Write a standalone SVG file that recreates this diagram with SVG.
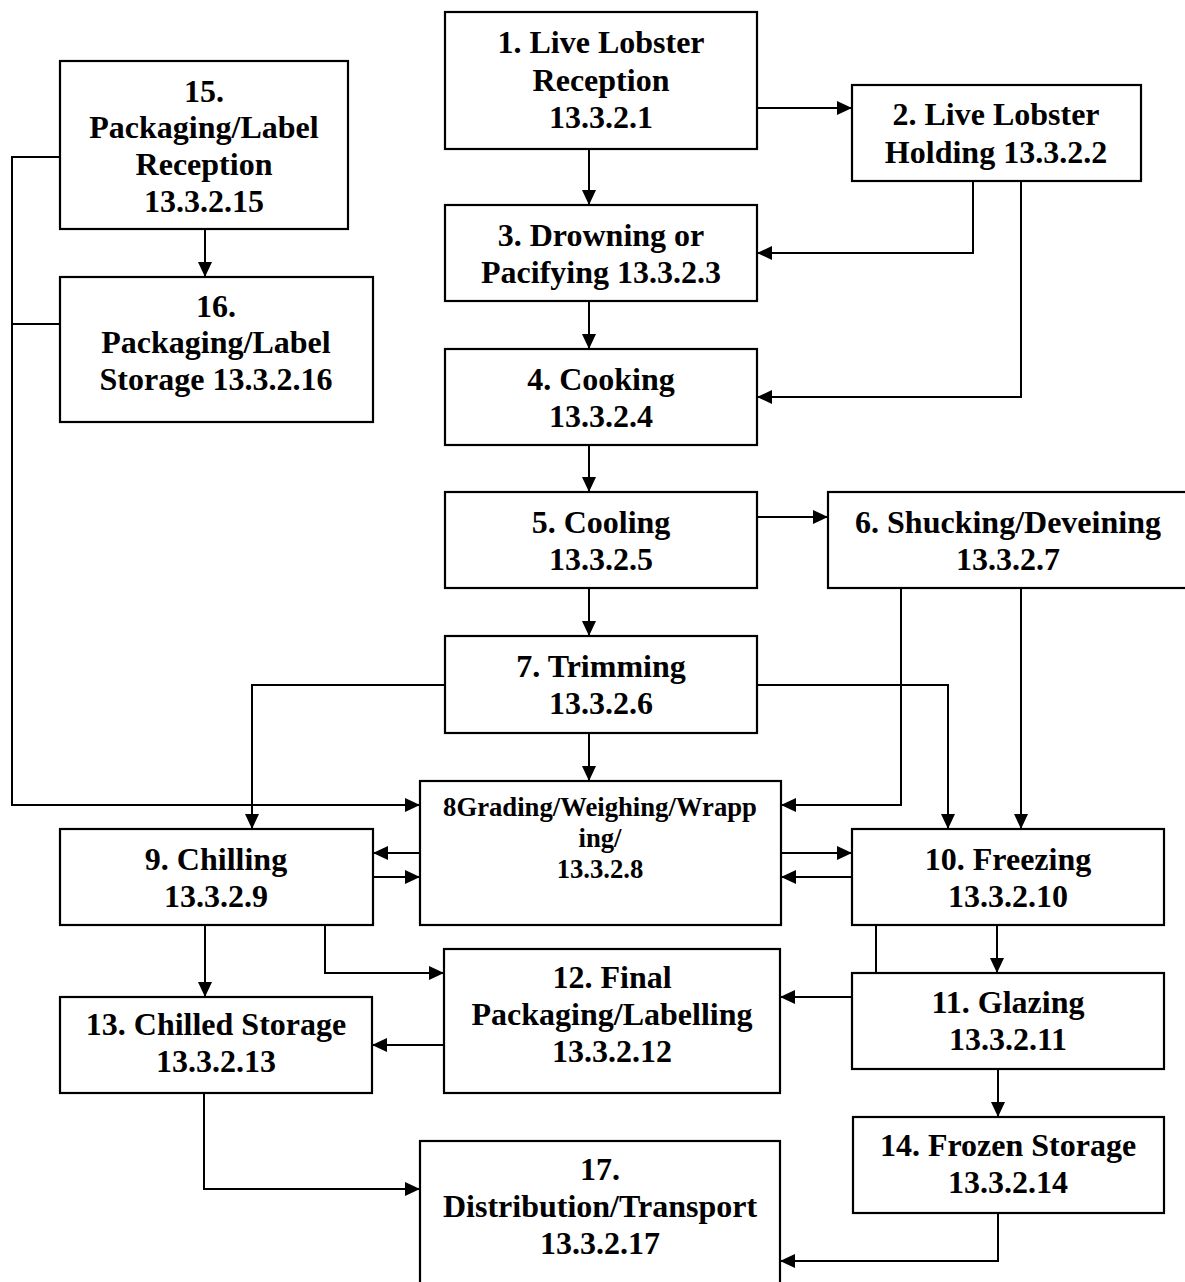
<svg xmlns="http://www.w3.org/2000/svg" width="1185" height="1282" viewBox="0 0 1185 1282">
<style>
.box{fill:#fff;stroke:#000;stroke-width:2.2}
.t{font-family:"Liberation Serif","Times New Roman",serif;font-weight:bold;font-size:32px;text-anchor:middle;fill:#000}
.s{font-size:26.7px}
.c{fill:none;stroke:#000;stroke-width:2}
</style>
<defs>
<marker id="ah" markerUnits="userSpaceOnUse" markerWidth="16" markerHeight="16" refX="15" refY="7" orient="auto">
<path d="M0,0 L15,7 L0,14 z" fill="#000"/>
</marker>
</defs>
<rect width="1185" height="1282" fill="#fff"/>
<g id="connectors">
<path class="c" d="M589,149 V205" marker-end="url(#ah)"/>
<path class="c" d="M757,108 H852" marker-end="url(#ah)"/>
<path class="c" d="M973,181 V253 H757" marker-end="url(#ah)"/>
<path class="c" d="M1021,181 V397 H757" marker-end="url(#ah)"/>
<path class="c" d="M589,301 V349" marker-end="url(#ah)"/>
<path class="c" d="M589,445 V492" marker-end="url(#ah)"/>
<path class="c" d="M757,517 H828" marker-end="url(#ah)"/>
<path class="c" d="M589,588 V636" marker-end="url(#ah)"/>
<path class="c" d="M589,733 V781" marker-end="url(#ah)"/>
<path class="c" d="M205,229 V277" marker-end="url(#ah)"/>
<path class="c" d="M60,157 H12 V805 H420" marker-end="url(#ah)"/>
<path class="c" d="M60,324 H12"/>
<path class="c" d="M444,685 H252 V829" marker-end="url(#ah)"/>
<path class="c" d="M757,685 H948 V829" marker-end="url(#ah)"/>
<path class="c" d="M901,588 V805 H781" marker-end="url(#ah)"/>
<path class="c" d="M1021,588 V829" marker-end="url(#ah)"/>
<path class="c" d="M420,853 H373" marker-end="url(#ah)"/>
<path class="c" d="M373,877 H420" marker-end="url(#ah)"/>
<path class="c" d="M781,853 H852" marker-end="url(#ah)"/>
<path class="c" d="M852,877 H781" marker-end="url(#ah)"/>
<path class="c" d="M997,925 V973" marker-end="url(#ah)"/>
<path class="c" d="M876,925 V973"/>
<path class="c" d="M852,997 H780" marker-end="url(#ah)"/>
<path class="c" d="M205,925 V997" marker-end="url(#ah)"/>
<path class="c" d="M325,925 V973 H444" marker-end="url(#ah)"/>
<path class="c" d="M444,1045 H372" marker-end="url(#ah)"/>
<path class="c" d="M998,1069 V1117" marker-end="url(#ah)"/>
<path class="c" d="M204,1093 V1189 H420" marker-end="url(#ah)"/>
<path class="c" d="M998,1213 V1261 H780" marker-end="url(#ah)"/>
</g>
<g id="n1"><rect class="box" x="445" y="12" width="312" height="137"/>
<text class="t" x="601" y="53">1. Live Lobster</text><text class="t" x="601" y="91">Reception</text><text class="t" x="601" y="128">13.3.2.1</text></g>
<g id="n2"><rect class="box" x="852" y="85" width="289" height="96"/>
<text class="t" x="996" y="125">2. Live Lobster</text><text class="t" x="996" y="163">Holding 13.3.2.2</text></g>
<g id="n3"><rect class="box" x="445" y="205" width="312" height="96"/>
<text class="t" x="601" y="246">3. Drowning or</text><text class="t" x="601" y="283">Pacifying 13.3.2.3</text></g>
<g id="n4"><rect class="box" x="445" y="349" width="312" height="96"/>
<text class="t" x="601" y="390">4. Cooking</text><text class="t" x="601" y="427">13.3.2.4</text></g>
<g id="n5"><rect class="box" x="445" y="492" width="312" height="96"/>
<text class="t" x="601" y="533">5. Cooling</text><text class="t" x="601" y="570">13.3.2.5</text></g>
<g id="n6"><rect class="box" x="828" y="492" width="370" height="96"/>
<text class="t" x="1008" y="533">6. Shucking/Deveining</text><text class="t" x="1008" y="570">13.3.2.7</text></g>
<g id="n7"><rect class="box" x="445" y="636" width="312" height="97"/>
<text class="t" x="601" y="677">7. Trimming</text><text class="t" x="601" y="714">13.3.2.6</text></g>
<g id="n8"><rect class="box" x="420" y="781" width="361" height="144"/>
<text class="t s" x="600" y="816">8Grading/Weighing/Wrapp</text><text class="t s" x="600" y="847">ing/</text><text class="t s" x="600" y="878">13.3.2.8</text></g>
<g id="n9"><rect class="box" x="60" y="829" width="313" height="96"/>
<text class="t" x="216" y="870">9. Chilling</text><text class="t" x="216" y="907">13.3.2.9</text></g>
<g id="n10"><rect class="box" x="852" y="829" width="312" height="96"/>
<text class="t" x="1008" y="870">10. Freezing</text><text class="t" x="1008" y="907">13.3.2.10</text></g>
<g id="n11"><rect class="box" x="852" y="973" width="312" height="96"/>
<text class="t" x="1008" y="1013">11. Glazing</text><text class="t" x="1008" y="1050">13.3.2.11</text></g>
<g id="n12"><rect class="box" x="444" y="949" width="336" height="144"/>
<text class="t" x="612" y="988">12. Final</text><text class="t" x="612" y="1025">Packaging/Labelling</text><text class="t" x="612" y="1062">13.3.2.12</text></g>
<g id="n13"><rect class="box" x="60" y="997" width="312" height="96"/>
<text class="t" x="216" y="1035">13. Chilled Storage</text><text class="t" x="216" y="1072">13.3.2.13</text></g>
<g id="n14"><rect class="box" x="853" y="1117" width="311" height="96"/>
<text class="t" x="1008" y="1156">14. Frozen Storage</text><text class="t" x="1008" y="1193">13.3.2.14</text></g>
<g id="n15"><rect class="box" x="60" y="61" width="288" height="168"/>
<text class="t" x="204" y="102">15.</text><text class="t" x="204" y="138">Packaging/Label</text><text class="t" x="204" y="175">Reception</text><text class="t" x="204" y="212">13.3.2.15</text></g>
<g id="n16"><rect class="box" x="60" y="277" width="313" height="145"/>
<text class="t" x="216" y="317">16.</text><text class="t" x="216" y="353">Packaging/Label</text><text class="t" x="216" y="390">Storage 13.3.2.16</text></g>
<g id="n17"><rect class="box" x="420" y="1141" width="360" height="150"/>
<text class="t" x="600" y="1180">17.</text><text class="t" x="600" y="1217">Distribution/Transport</text><text class="t" x="600" y="1254">13.3.2.17</text></g>
</svg>
